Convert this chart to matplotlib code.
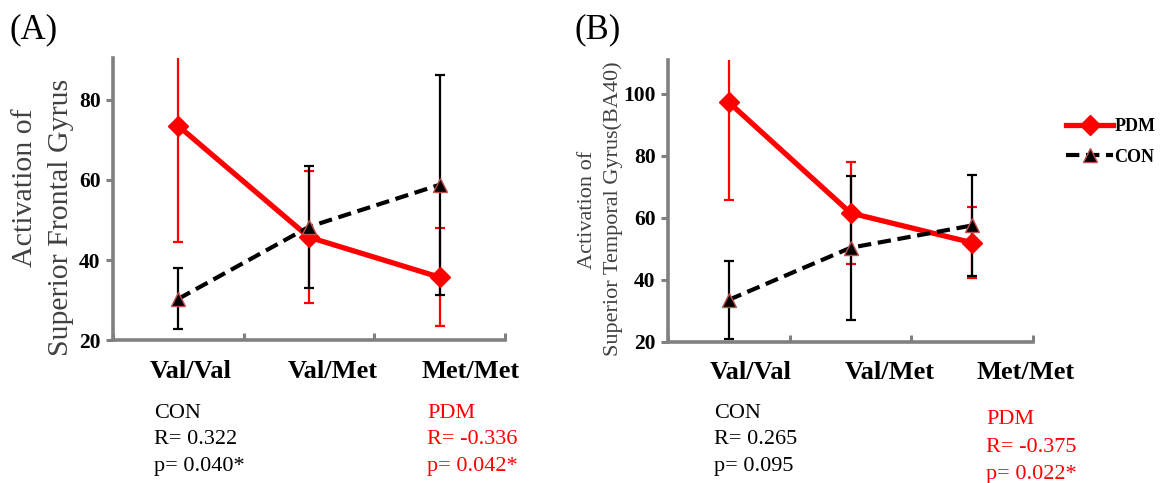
import matplotlib
matplotlib.use("Agg")
import matplotlib.pyplot as plt
import matplotlib.transforms as mtrans
import numpy as np

plt.rcParams['font.family'] = ['Liberation Serif', 'DejaVu Serif']

genotypes = ["Val/Val", "Val/Met", "Met/Met"]

# (A) Superior Frontal Gyrus
sfg_pdm = [73.5, 45.7, 35.7]
sfg_pdm_err = [29.0, 16.5, 12.2]
sfg_con = [30.3, 48.3, 58.8]
sfg_con_err = [7.6, 15.2, 27.5]

# (B) Superior Temporal Gyrus (BA40)
stg_pdm = [97.3, 61.6, 52.0]
stg_pdm_err = [31.5, 16.6, 11.4]
stg_con = [33.6, 50.4, 57.6]
stg_con_err = [12.6, 23.2, 16.4]

stats_a = [("CON", "0.322", "0.040*"), ("PDM", "-0.336", "0.042*")]
stats_b = [("CON", "0.265", "0.095"), ("PDM", "-0.375", "0.022*")]

RED = "#ff0000"
GREY = "#808080"
W, H = 1163, 483

fig = plt.figure(figsize=(W / 100, H / 100), dpi=100)


def panel(rect, pdm, pdm_err, con, con_err, ylim, yticks, label_shift_px):
    ax = fig.add_axes(rect)
    x = np.arange(len(genotypes)) + 0.5
    ax.errorbar(x, pdm, yerr=pdm_err, fmt='none', ecolor=RED, elinewidth=1.6,
                capsize=3.5, capthick=1.6, zorder=2)
    ax.errorbar(x, con, yerr=con_err, fmt='none', ecolor='black', elinewidth=1.6,
                capsize=3.5, capthick=1.6, zorder=2)
    ax.plot(x, pdm, color=RED, lw=3.8, marker='D', markersize=10.5,
            markerfacecolor=RED, markeredgecolor=RED, zorder=3, label="PDM")
    ax.plot(x, con, color='black', lw=3.0, ls=(0, (3.2, 1.6)), marker='^', markersize=10,
            markerfacecolor='black', markeredgecolor='#c0504d', markeredgewidth=1.0,
            zorder=4, label="CON")
    ax.set_xlim(0, 3)
    ax.set_ylim(*ylim)
    ax.set_yticks(yticks)
    ax.set_yticklabels([str(t) for t in yticks], fontsize=15.5, fontweight='bold')
    ax.set_xticks([0, 1, 2, 3])
    ax.set_xticklabels([])
    # category names below the axis, nudged a little right of their points
    base = ax.get_xaxis_transform()
    for xi, name, dx in zip(x, genotypes, label_shift_px):
        tr = base + mtrans.ScaledTranslation(dx / 100, -31 / 100, fig.dpi_scale_trans)
        ax.text(xi, 0, name, transform=tr, fontsize=19, fontweight='bold',
                ha='center', va='center', clip_on=False)
    ax.tick_params(axis='x', which='major', length=5, width=2.2, color=GREY, direction='in')
    ax.tick_params(axis='y', length=5, width=2.2, color=GREY, direction='out', pad=4)
    for s in ('top', 'right'):
        ax.spines[s].set_visible(False)
    for s in ('left', 'bottom'):
        ax.spines[s].set_color(GREY)
        ax.spines[s].set_linewidth(2.6)
    return ax


ax_a = panel([0.0972, 0.296, 0.3370, 0.584], sfg_pdm, sfg_pdm_err, sfg_con, sfg_con_err,
             (20, 90.5), [20, 40, 60, 80], [12, 24, 31])
ax_b = panel([0.5744, 0.292, 0.3140, 0.584], stg_pdm, stg_pdm_err, stg_con, stg_con_err,
             (20, 111), [20, 40, 60, 80, 100], [22, 39, 53])


def vlabel(x_px, y_px, s, size):
    fig.text(x_px / W, 1 - y_px / H, s, fontsize=size, color='#404040',
             rotation=90, ha='center', va='center')


# y-axis titles, two rotated lines each
vlabel(25, 188, "Activation of", 21.5)
vlabel(61, 217, "Superior Frontal Gyrus", 21.5)
vlabel(588, 210, "Activation of", 16)
vlabel(613, 209, "Superior Temporal Gyrus(BA40)", 16)

leg = ax_b.legend(loc='upper left', bbox_to_anchor=(1.091, 0.794), frameon=False,
                  prop={'family': 'Liberation Serif', 'weight': 'bold', 'size': 13},
                  handlelength=2.6, handletextpad=0.05, labelspacing=0.75, markerscale=0.95,
                  borderaxespad=0, borderpad=0)

fig.text(0.008, 0.905, "(A)", fontsize=25, ha='left', va='bottom')
fig.text(0.494, 0.905, "(B)", fontsize=25, ha='left', va='bottom')


def stats_block(x_px, y_px_top, entry, color, dy=27):
    name, r, p = entry
    for i, line in enumerate([name, "R= " + r, "p= " + p]):
        fig.text(x_px / W, 1 - (y_px_top + i * dy) / H, line, fontsize=16,
                 color=color, ha='left', va='center')


stats_block(154, 413, stats_a[0], 'black')
stats_block(427, 413, stats_a[1], RED)
stats_block(714, 413, stats_b[0], 'black')
stats_block(986, 420, stats_b[1], RED)

fig.savefig("out.png", dpi=100)
